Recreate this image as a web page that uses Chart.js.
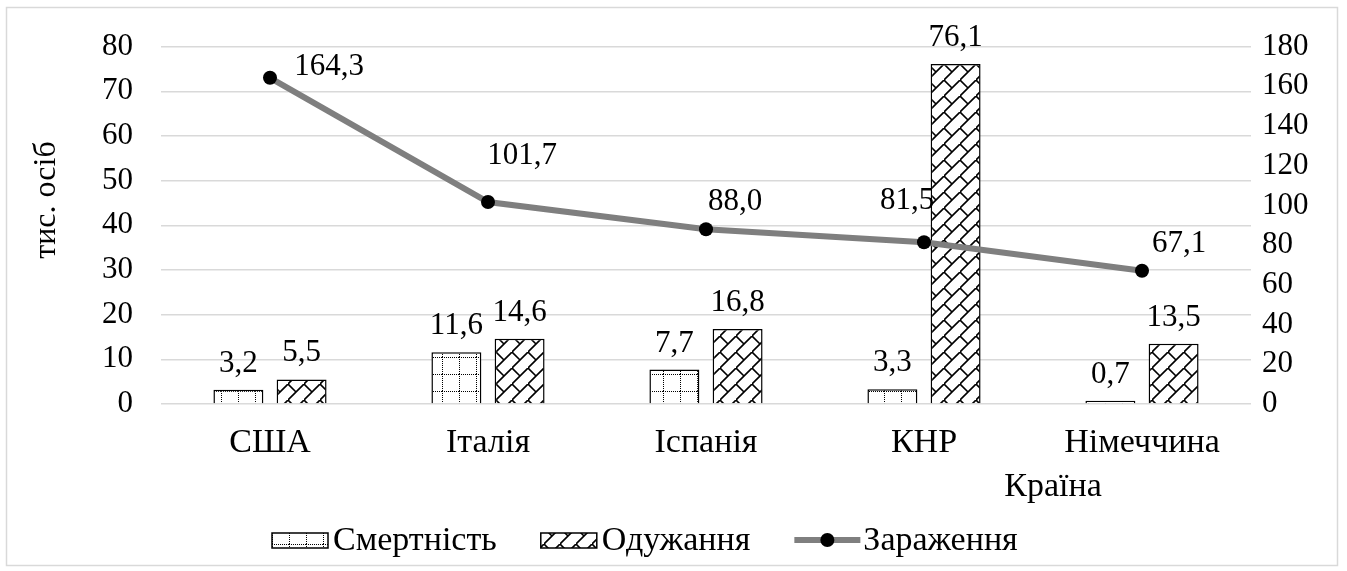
<!DOCTYPE html>
<html>
<head>
<meta charset="utf-8">
<script src="https://cdn.jsdelivr.net/npm/chart.js@4.4.0/dist/chart.umd.min.js"></script>
<style>
  html, body { margin: 0; padding: 0; background: #fff; }
  #wrap { width: 1347px; height: 571px; }
</style>
</head>
<body>
<div id="wrap"><canvas id="chart" width="1347" height="571"></canvas></div>
<script>
// Data
const countries = ['США', 'Італія', 'Іспанія', 'КНР', 'Німеччина'];
const deaths = [3.2, 11.6, 7.7, 3.3, 0.7];
const recovered = [5.5, 14.6, 16.8, 76.1, 13.5];
const infected = [164.3, 101.7, 88.0, 81.5, 67.1];

// manual label nudges for the line (hand placed labels in the original)
const infectedLabelShift = [[59, -11], [34, -46], [29, -27], [-17, -41], [37, -27]];

const FONT = '"Liberation Serif", "Times New Roman", serif';
const NUM = '31px ' + FONT;
const WORD = '34px ' + FONT;
const fmt = v => v.toFixed(1).replace('.', ',');

// Patterns
function dotGrid() {
  const c = document.createElement('canvas');
  c.width = 17; c.height = 17;
  const g = c.getContext('2d');
  g.fillStyle = '#fff';
  g.fillRect(0, 0, 17, 17);
  g.fillStyle = '#000';
  for (let i = 0; i < 17; i += 2) {
    g.fillRect(i, 0, 1, 1);
    g.fillRect(0, i, 1, 1);
  }
  return g.createPattern(c, 'repeat');
}

function diagBrick() {
  const c = document.createElement('canvas');
  c.width = 16; c.height = 16;
  const g = c.getContext('2d');
  g.fillStyle = '#fff';
  g.fillRect(0, 0, 16, 16);
  g.strokeStyle = '#000';
  g.lineWidth = 1.6;
  g.beginPath();
  g.moveTo(-2, 18); g.lineTo(18, -2);
  g.moveTo(0, 0); g.lineTo(8, 8);
  g.stroke();
  return g.createPattern(c, 'repeat');
}

const deathFill = dotGrid();
const recFill = diagBrick();

// value labels, axis titles, legend, outer frame
const extras = {
  id: 'extras',
  afterDatasetsDraw(chart) {
    const ctx = chart.ctx;
    ctx.save();
    ctx.fillStyle = '#000';
    ctx.font = NUM;
    ctx.textAlign = 'center';
    ctx.textBaseline = 'alphabetic';
    [0, 1].forEach(i => {
      chart.getDatasetMeta(i).data.forEach((bar, j) => {
        ctx.fillText(fmt(chart.data.datasets[i].data[j]), bar.x, bar.y - 18);
      });
    });
    ctx.textBaseline = 'middle';
    chart.getDatasetMeta(2).data.forEach((pt, j) => {
      const s = infectedLabelShift[j];
      ctx.fillText(fmt(infected[j]), pt.x + s[0], pt.y + s[1]);
    });
    ctx.restore();
  },
  afterDraw(chart) {
    const ctx = chart.ctx;
    ctx.save();
    ctx.strokeStyle = '#d9d9d9';
    ctx.lineWidth = 1.5;
    ctx.strokeRect(6.5, 7.5, 1331, 558);

    ctx.fillStyle = '#000';
    ctx.font = WORD;
    ctx.textAlign = 'center';
    ctx.textBaseline = 'middle';
    ctx.fillText('Країна', 1053, 487);
    ctx.save();
    ctx.translate(47, 200);
    ctx.rotate(-Math.PI / 2);
    ctx.font = '32px ' + FONT;
    ctx.fillText('тис. осіб', 0, 0);
    ctx.restore();

    // legend
    let x = 272;
    const cy = 540;
    ctx.textAlign = 'left';
    chart.data.datasets.forEach(ds => {
      if (ds.type === 'line') {
        ctx.strokeStyle = ds.borderColor;
        ctx.lineWidth = ds.borderWidth;
        ctx.beginPath();
        ctx.moveTo(x, cy); ctx.lineTo(x + 66, cy);
        ctx.stroke();
        ctx.fillStyle = ds.pointBackgroundColor;
        ctx.beginPath();
        ctx.arc(x + 33, cy, ds.pointRadius, 0, Math.PI * 2);
        ctx.fill();
        x += 69;
      } else {
        ctx.fillStyle = ds.backgroundColor;
        ctx.fillRect(x, cy - 7, 56, 15);
        ctx.strokeStyle = '#000';
        ctx.lineWidth = 1.5;
        ctx.strokeRect(x, cy - 7, 56, 15);
        x += 61;
      }
      ctx.fillStyle = '#000';
      ctx.fillText(ds.label, x, cy + 1);
      x += ctx.measureText(ds.label).width + 44;
    });
    ctx.restore();
  }
};

new Chart(document.getElementById('chart'), {
  type: 'bar',
  data: {
    labels: countries,
    datasets: [
      {
        label: 'Смертність',
        data: deaths,
        backgroundColor: deathFill,
        borderColor: '#000',
        borderWidth: 1.5,
        yAxisID: 'y',
        order: 2,
        categoryPercentage: 0.58,
        barPercentage: 0.79
      },
      {
        label: 'Одужання',
        data: recovered,
        backgroundColor: recFill,
        borderColor: '#000',
        borderWidth: 1.5,
        yAxisID: 'y',
        order: 2,
        categoryPercentage: 0.58,
        barPercentage: 0.79
      },
      {
        type: 'line',
        label: 'Зараження',
        data: infected,
        borderColor: '#7f7f7f',
        borderWidth: 6,
        pointRadius: 7,
        pointBackgroundColor: '#000',
        pointBorderWidth: 0,
        yAxisID: 'y2',
        order: 1
      }
    ]
  },
  options: {
    responsive: false,
    animation: false,
    layout: { padding: { top: 40, left: 0, right: 0, bottom: 0 } },
    plugins: {
      legend: { display: false },
      tooltip: { enabled: false }
    },
    scales: {
      x: {
        grid: { display: false, drawTicks: false },
        border: { display: false },
        ticks: { color: '#000', font: { family: FONT, size: 34 }, padding: 19 },
        afterFit: s => { s.height = 167; }
      },
      y: {
        position: 'left',
        min: 0, max: 80,
        grid: { color: '#d9d9d9', lineWidth: 1.5, drawTicks: false },
        border: { display: false },
        ticks: { stepSize: 10, autoSkip: false, color: '#000', font: { family: FONT, size: 31 }, padding: 28 },
        afterFit: s => { s.width = 161; }
      },
      y2: {
        position: 'right',
        min: 0, max: 180,
        grid: { display: false, drawTicks: false },
        border: { display: false },
        ticks: { stepSize: 20, autoSkip: false, color: '#000', font: { family: FONT, size: 31 }, padding: 11 },
        afterFit: s => { s.width = 96; }
      }
    }
  },
  plugins: [extras]
});
</script>
</body>
</html>
